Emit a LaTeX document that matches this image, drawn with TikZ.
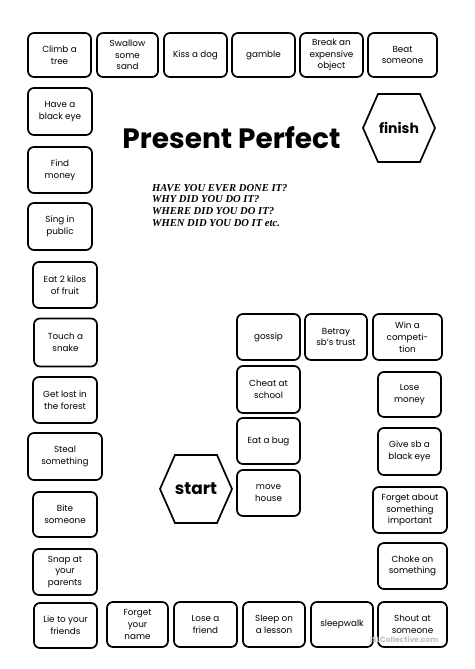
\documentclass[tikz,border=0pt]{standalone}
\usepackage{fontspec}
\setmainfont{Poppins}
\newfontfamily\qfont{Liberation Serif}
\usetikzlibrary{positioning, calc}

\newcommand{\hexagon}[1]{\draw[hexline] ($(#1)+(-36,0)$) -- ++(15,-34) -- ++(42,0) -- ++(15,34) -- ++(-15,34) -- ++(-42,0) -- cycle;}

\begin{document}
\begin{tikzpicture}[
    x=1pt, y=-1pt,
    font=\fontsize{8.8}{11.7}\selectfont,
    square/.style={
        rectangle, draw=black, line width=1.7pt, rounded corners=6pt,
        fill=white,
        minimum width=63pt, minimum height=46pt, align=center,
        inner sep=1pt
    },
    wide/.style={square, minimum width=69pt},
    wider/.style={square, minimum width=74pt},
    hexlabel/.style={inner sep=0pt, font=\fontsize{14}{14}\selectfont\bfseries},
    hexline/.style={draw=black, line width=1.7pt, line join=miter}
]
\useasboundingbox (0,0) rectangle (474,669);

% ---------------------------------------------------------------------
% 1. TOP ROW
% ---------------------------------------------------------------------
\node[square, minimum height=44pt] (Top1) at (59.5, 55) {Climb a\\tree};
\node[square, minimum height=44pt, minimum width=61pt] (Top2) at (127.5, 55) {Swallow\\some\\sand};
\node[square, minimum height=44pt] (Top3) at (195.5, 55) {Kiss a dog};
\node[square, minimum height=44pt] (Top4) at (263.5, 55) {gamble};
\node[square, minimum height=44pt] (Top5) at (331.5, 55) {Break an\\expensive\\object};
\node[wide, minimum height=44pt] (Top6) at (402.5, 55) {Beat\\someone};

% ---------------------------------------------------------------------
% 2. LEFT COLUMN
% ---------------------------------------------------------------------
\node[square, minimum width=64pt, minimum height=47pt] (Left1) at (60, 111.5) {Have a\\black eye};
\node[square, minimum width=64pt] (Left2) at (60, 170) {Find\\money};
\node[square, minimum width=64pt, minimum height=47pt] (Left3) at (60, 226.5) {Sing in\\public};
\node[square, minimum width=64pt] (Left4) at (65, 285) {Eat  2 kilos\\of fruit};
\node[square, minimum height=48pt] (Left5) at (65.5, 342.5) {Touch a\\snake};
\node[square, minimum width=64pt] (Left6) at (65, 400) {Get lost in\\the forest};
\node[wider, minimum height=47pt] (Left7) at (65, 456.5) {Steal\\something};
\node[square, minimum width=64pt, minimum height=45pt] (Left8) at (65, 514.5) {Bite\\someone};
\node[square, minimum width=64pt] (Left9) at (65, 572) {Snap at\\your\\parents};
\node[square, minimum height=45pt] (Left10) at (65.5, 625.5) {Lie to your\\friends};

% ---------------------------------------------------------------------
% 3. BOTTOM ROW
% ---------------------------------------------------------------------
\node[square, minimum width=61pt, minimum height=45pt] (Bot1) at (137.5, 624.5) {Forget\\your\\name};
\node[square, minimum height=45pt] (Bot2) at (205.5, 624.5) {Lose a\\friend};
\node[square, minimum width=62pt, minimum height=45pt] (Bot3) at (274, 624.5) {Sleep on\\a lesson};
\node[square, minimum width=62pt, minimum height=45pt] (Bot4) at (342, 624.5) {sleepwalk};
\node[wide, minimum height=45pt] (Bot5) at (412.5, 624.5) {Shout at\\someone};

% ---------------------------------------------------------------------
% 4. RIGHT COLUMN AND INNER TRACK
% ---------------------------------------------------------------------
\node[wide] (Right1) at (412.5, 566) {Choke on\\something};
\node[wider] (Right2) at (410, 510) {Forget about\\something\\important};
\node[square, minimum height=47pt] (Right3) at (409.5, 451.5) {Give sb a\\black eye};
\node[square, minimum height=45pt] (Right4) at (409.5, 394.5) {Lose\\money};
\node[wide] (Right5) at (407.5, 337) {Win a\\competi-\\tion};
\node[square, minimum width=62pt] (Mid1) at (336, 337) {Betray\\sb's trust};
\node[square] (Mid2) at (268.5, 337) {gossip};
\node[square, minimum height=47pt] (Mid3) at (268.5, 389.5) {Cheat at\\school};
\node[square] (Mid4) at (268.5, 441) {Eat a bug};
\node[square] (Mid5) at (268.5, 493) {move\\house};

% ---------------------------------------------------------------------
% 5. START / FINISH
% ---------------------------------------------------------------------
\node[hexlabel, font=\fontsize{17}{17}\selectfont\bfseries] (Start) at (196, 489) {start};
\hexagon{Start}
\node[hexlabel] (Finish) at (399, 128) {finish};
\hexagon{Finish}

% ---------------------------------------------------------------------
% 6. TITLE AND QUESTIONS
% ---------------------------------------------------------------------
\node[anchor=base, inner sep=0pt, font=\fontsize{28}{28}\selectfont\bfseries] (Title) at (231.5, 148) {Present Perfect};
\node[anchor=north west, inner sep=0pt, align=left, font=\qfont\fontsize{10.6}{11.7}\selectfont\bfseries\itshape] (Questions) at (152, 184) {HAVE YOU EVER DONE IT?\\WHY DID YOU DO IT?\\WHERE DID YOU DO IT?\\WHEN DID YOU DO IT etc.};

\node[text=black!25, inner sep=0pt, font=\fontsize{7.5}{7.5}\selectfont\bfseries] (Mark) at (404, 640) {iSLCollective.com};

\end{tikzpicture}
\end{document}
